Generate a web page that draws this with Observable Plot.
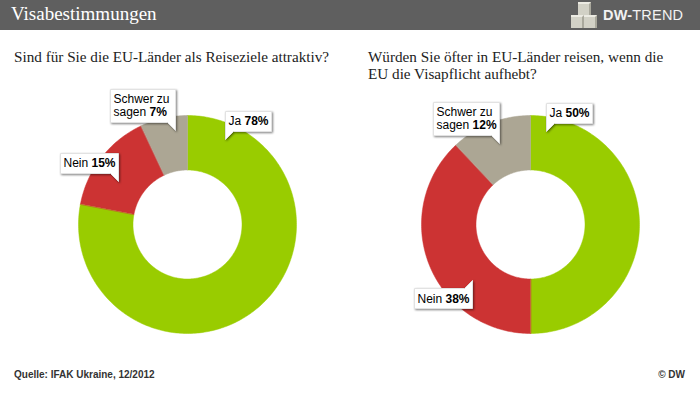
<!DOCTYPE html>
<html><head><meta charset="utf-8">
<script src="https://cdn.jsdelivr.net/npm/d3@7"></script>
<script src="https://cdn.jsdelivr.net/npm/@observablehq/plot@0.6"></script>
<style>
body{margin:0;background:#fff;}
#wrap{position:relative;width:700px;height:394px;overflow:hidden;font-family:"Liberation Sans",Arial,sans-serif;background:#fff;}
#hdr{position:absolute;left:0;top:0;width:700px;height:30px;background:#5f5f5f;}
#ttl{position:absolute;left:11px;top:3px;color:#fff;font-family:"Liberation Serif","DejaVu Serif",serif;font-size:19px;}
#logo{position:absolute;left:603px;top:7px;color:#f2f2f2;font-size:14.5px;letter-spacing:0.2px;}
#logo b{font-weight:bold;}
.cube{position:absolute;width:11px;height:11px;background:#d2d1c6;border-right:2px solid #a9a89c;border-top:2px solid #ecebe3;}
.q{position:absolute;top:48px;font-family:"Liberation Serif","DejaVu Serif",serif;font-size:15.2px;color:#222;line-height:17px;}
.chart{position:absolute;top:80px;}
.foot{position:absolute;top:369px;font-family:"Liberation Sans Narrow","Liberation Sans",Arial,sans-serif;font-weight:bold;font-size:10px;color:#333;}
g[aria-label="tip"] text > tspan{font-weight:bold;}
g[aria-label="tip"] text > tspan > tspan{font-weight:normal;}
</style></head>
<body>
<div id="wrap">
  <div id="hdr">
    <div id="ttl"></div>
    <div class="cube" style="left:578px;top:2px"></div>
    <div class="cube" style="left:571px;top:15px"></div>
    <div class="cube" style="left:584px;top:15px"></div>
    <div id="logo"><b>DW-</b>TREND</div>
  </div>
  <div class="q" id="q1" style="left:14px"></div>
  <div class="q" id="q2" style="left:368px"></div>
  <div class="chart" id="c1" style="left:17px"></div>
  <div class="chart" id="c2" style="left:360px"></div>
  <div class="foot" id="src" style="left:14px"></div>
  <div class="foot" id="copy" style="right:15px"></div>
</div>
<script>
// ---- data ----
const mainTitle = "Visabestimmungen";
const question1 = "Sind für Sie die EU-Länder als Reiseziele attraktiv?";
const question2 = ["Würden Sie öfter in EU-Länder reisen, wenn die", "EU die Visapflicht aufhebt?"];
const categories = ["Ja", "Nein", "Schwer zu sagen"];
const labelLines = [["Ja"], ["Nein"], ["Schwer zu", "sagen"]];
const values1 = [78, 15, 7];
const values2 = [50, 38, 12];
const sourceText = "Quelle: IFAK Ukraine, 12/2012";
const copyText = "© DW";
const colors = ["#99cc00", "#cc3333", "#aca694"];

document.getElementById("ttl").textContent = mainTitle;
document.getElementById("q1").textContent = question1;
document.getElementById("q2").innerHTML = question2.join("<br>");
document.getElementById("src").textContent = sourceText;
document.getElementById("copy").textContent = copyText;

const INNER = 0.5;
function slicePoints(values) {
  const total = d3.sum(values);
  let acc = 0;
  const pts = [];
  values.forEach((v, i) => {
    const a0 = acc / total * 2 * Math.PI; acc += v;
    const a1 = acc / total * 2 * Math.PI;
    const n = Math.max(2, Math.ceil((a1 - a0) / (Math.PI / 180)));
    for (let k = 0; k <= n; k++) { const a = a0 + (a1 - a0) * k / n; pts.push({cat: categories[i], x: Math.sin(a), y: Math.cos(a)}); }
    for (let k = n; k >= 0; k--) { const a = a0 + (a1 - a0) * k / n; pts.push({cat: categories[i], x: INNER * Math.sin(a), y: INNER * Math.cos(a)}); }
  });
  return pts;
}

// label placement (layout, in donut-radius units from the centre) and tip anchor
const layout1 = [
  {lx: 0.35, ly: 0.78, anchor: "bottom-left"},
  {lx: -0.63, ly: 0.39, anchor: "bottom-right"},
  {lx: -0.11, ly: 0.86, anchor: "bottom-right"}
];
const layout2 = [
  {lx: 0.15, ly: 0.85, anchor: "bottom-left"},
  {lx: -0.53, ly: -0.51, anchor: "top-right"},
  {lx: -0.28, ly: 0.74, anchor: "bottom-right"}
];

function tipMarks(values, layout) {
  return values.map((v, i) => {
    const L = layout[i];
    const row = {x: L.lx, y: L.ly, pct: v + "%"};
    const lines = labelLines[i];
    const channels = {};
    lines.forEach((ln, j) => {
      channels[ln] = j === lines.length - 1 ? (d => d.pct) : (d => "");
    });
    return Plot.tip([row], {
      x: "x", y: "y", anchor: L.anchor, channels,
      format: {x: false, y: false},
      fontSize: 12, fontFamily: "Liberation Sans, Arial, sans-serif",
      textPadding: 3, pointerSize: 8, lineHeight: 1.1,
      fill: "white", stroke: "#e2e2e2",
      pathFilter: "drop-shadow(1px 1px 1.2px rgba(0,0,0,0.5))"
    });
  });
}

function donut(values, layout) {
  return Plot.plot({
    width: 340, height: 290,
    marginLeft: 61, marginRight: 61, marginTop: 35, marginBottom: 37,
    x: {domain: [-1, 1], axis: null},
    y: {domain: [-1, 1], axis: null},
    color: {domain: categories, range: colors},
    style: {overflow: "visible", background: "transparent"},
    marks: [
      Plot.line(slicePoints(values), {x: "x", y: "y", z: "cat", fill: "cat", stroke: "cat", strokeWidth: 0.5, curve: "linear-closed"}),
      ...tipMarks(values, layout)
    ]
  });
}

document.getElementById("c1").append(donut(values1, layout1));
document.getElementById("c2").append(donut(values2, layout2));
</script>
</body></html>
